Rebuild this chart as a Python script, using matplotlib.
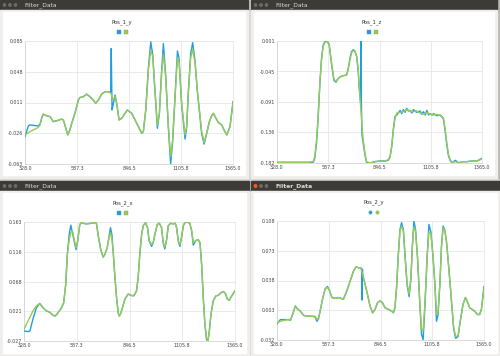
import numpy as np
import matplotlib
matplotlib.use("Agg")
import matplotlib.pyplot as plt
from matplotlib.patches import Rectangle, Circle

# ---- data ----
X_TICKS = ['328.0', '587.3', '846.5', '1105.8', '1365.0']
X_MIN, X_MAX = 328, 1365

# Pos_1_y
TL_NAME = 'Pos_1_y'
TL_YTICKS = ['-0.063', '-0.026', '0.011', '0.048', '0.085']
TL_X = [328, 353, 386, 394, 403, 411, 419, 436, 453, 469, 486, 511, 519, 527, 541, 552, 561, 577, 594, 602,
        619, 635, 652, 669, 680, 694, 710, 727, 744, 757, 765, 777, 785, 797, 810, 827, 838, 860, 885, 910,
        918, 930, 943, 955, 965, 976, 988, 998, 1009, 1018, 1029, 1043, 1054, 1064, 1076, 1088, 1096, 1109,
        1126, 1134, 1142, 1154, 1164, 1176, 1187, 1201, 1209, 1221, 1234, 1247, 1259, 1267, 1280, 1292,
        1309, 1320, 1334, 1350, 1365]
TL_FILT = [-0.028, -0.024, -0.020, -0.019, -0.016, -0.008, -0.003, -0.005, -0.006, -0.012, -0.011, -0.009,
           -0.010, -0.016, -0.028, -0.022, -0.014, -0.002, 0.014, 0.017, 0.018, 0.021, 0.018, 0.014, 0.010,
           0.014, 0.021, 0.024, 0.024, 0.022, 0.014, 0.018, 0.010, -0.010, -0.008, -0.002, 0.002, -0.002,
           -0.014, -0.026, -0.024, 0.002, 0.050, 0.074, 0.066, 0.026, -0.016, -0.002, 0.046, 0.069, 0.043,
           -0.018, -0.054, -0.034, 0.018, 0.065, 0.060, 0.010, -0.028, -0.018, 0.022, 0.065, 0.075, 0.058,
           0.026, -0.006, -0.024, -0.037, -0.026, -0.012, -0.005, -0.002, -0.008, -0.013, -0.016, -0.022,
           -0.028, -0.018, 0.010]
TL_RAW_X = [328, 345, 353, 386, 394, 403, 411, 419, 436, 453, 469, 486, 511, 519, 527, 541, 552, 561, 577,
            594, 602, 619, 635, 652, 669, 680, 694, 710, 727, 744, 755, 758, 762, 768, 777, 785, 797, 810,
            827, 838, 860, 885, 910, 918, 930, 943, 955, 965, 976, 988, 998, 1009, 1018, 1029, 1043, 1054,
            1064, 1076, 1088, 1096, 1109, 1126, 1134, 1142, 1154, 1164, 1176, 1187, 1201, 1209, 1221, 1234,
            1247, 1259, 1267, 1280, 1292, 1309, 1320, 1334, 1350, 1365]
TL_RAW = [-0.030, -0.017, -0.016, -0.017, -0.017, -0.015, -0.008, -0.003, -0.005, -0.006, -0.012, -0.011,
          -0.009, -0.010, -0.016, -0.028, -0.022, -0.014, -0.002, 0.014, 0.017, 0.018, 0.021, 0.018, 0.014,
          0.010, 0.014, 0.021, 0.024, 0.024, 0.023, 0.076, 0.002, 0.009, 0.020, 0.010, -0.010, -0.008,
          -0.002, 0.002, -0.002, -0.014, -0.026, -0.024, 0.002, 0.052, 0.084, 0.068, 0.024, -0.020, -0.002,
          0.048, 0.082, 0.045, -0.020, -0.063, -0.036, 0.018, 0.073, 0.064, 0.008, -0.033, -0.019, 0.022,
          0.070, 0.083, 0.060, 0.025, -0.008, -0.027, -0.039, -0.026, -0.012, -0.005, -0.002, -0.008,
          -0.013, -0.016, -0.022, -0.028, -0.018, 0.012]

# Pos_1_z
TR_NAME = 'Pos_1_z'
TR_YTICKS = ['-0.182', '-0.136', '-0.091', '-0.045', '0.001']
TR_X = [328, 485, 511, 519, 528, 536, 545, 553, 561, 570, 582, 592, 604, 616, 626, 633, 646, 663, 680, 688,
        697, 705, 714, 722, 731, 739, 744, 751, 758, 764, 773, 781, 798, 824, 849, 874, 891, 900, 908, 917,
        925, 934, 951, 967, 984, 1001, 1018, 1035, 1052, 1069, 1086, 1103, 1120, 1137, 1154, 1162, 1170,
        1179, 1187, 1196, 1204, 1213, 1230, 1247, 1264, 1289, 1314, 1340, 1365]
TR_FILT = [-0.181, -0.181, -0.180, -0.172, -0.147, -0.112, -0.062, -0.027, -0.008, -0.001,
           0.000, -0.005, -0.032, -0.056, -0.060, -0.057, -0.053, -0.051, -0.050, -0.042,
           -0.027, -0.017, -0.013, -0.015, -0.022, -0.042, -0.067, -0.097, -0.127, -0.147,
           -0.167, -0.180, -0.182, -0.180, -0.179, -0.179, -0.177, -0.172, -0.157, -0.132,
           -0.115, -0.107, -0.106, -0.105, -0.102, -0.104, -0.105, -0.104, -0.107, -0.109,
           -0.106, -0.109, -0.110, -0.109, -0.111, -0.112, -0.115, -0.132, -0.152, -0.170,
           -0.177, -0.181, -0.180, -0.182, -0.180, -0.180, -0.179, -0.179, -0.176]
TR_RAW_X = [328, 485, 511, 519, 528, 536, 545, 553, 561, 570, 582, 592, 604, 616, 626, 633, 646, 663, 680,
            688, 697, 705, 714, 722, 731, 739, 744, 751, 753, 755, 758, 764, 773, 781, 798, 824, 849, 874,
            891, 900, 908, 917, 925, 934, 951, 959, 967, 976, 984, 993, 1001, 1010, 1018, 1035, 1052, 1060,
            1069, 1078, 1086, 1095, 1103, 1112, 1120, 1137, 1154, 1162, 1170, 1179, 1187, 1196, 1204, 1213,
            1230, 1247, 1264, 1289, 1314, 1340, 1365]
TR_RAW = [-0.181, -0.181, -0.181, -0.175, -0.152, -0.115, -0.062, -0.027, -0.006, 0.000,
          0.001, -0.004, -0.034, -0.058, -0.061, -0.057, -0.053, -0.051, -0.050, -0.041,
          -0.025, -0.015, -0.012, -0.014, -0.022, -0.045, -0.070, -0.092, 0.001, -0.095,
          -0.140, -0.152, -0.170, -0.181, -0.182, -0.180, -0.179, -0.179, -0.178, -0.173,
          -0.158, -0.130, -0.112, -0.110, -0.103, -0.108, -0.102, -0.106, -0.100, -0.104,
          -0.103, -0.107, -0.102, -0.106, -0.104, -0.109, -0.105, -0.110, -0.103, -0.110,
          -0.108, -0.110, -0.108, -0.111, -0.110, -0.113, -0.116, -0.135, -0.155, -0.172,
          -0.178, -0.182, -0.178, -0.182, -0.180, -0.180, -0.179, -0.179, -0.175]

# Pos_2_x
BL_NAME = 'Pos_2_x'
BL_YTICKS = ['-0.027', '0.021', '0.068', '0.116', '0.163']
BL_X = [328, 348, 372, 389, 405, 422, 438, 454, 471, 482, 495, 512, 523, 533, 541, 550, 558, 566, 576, 584,
        592, 602, 610, 618, 635, 659, 676, 684, 692, 705, 717, 725, 737, 746, 753, 760, 766, 774, 783, 791,
        796, 802, 812, 824, 840, 853, 865, 873, 881, 889, 897, 906, 914, 925, 935, 943, 955, 963, 971, 983,
        993, 1004, 1012, 1020, 1029, 1037, 1048, 1061, 1071, 1078, 1086, 1094, 1102, 1111, 1119, 1130, 1143,
        1152, 1160, 1171, 1184, 1193, 1201, 1209, 1217, 1225, 1232, 1239, 1247, 1258, 1271, 1283, 1296,
        1308, 1319, 1327, 1337, 1349, 1365]
BL_FILT = [-0.008, 0.005, 0.021, 0.029, 0.033, 0.026, 0.021, 0.019, 0.014, 0.013,
           0.018, 0.026, 0.034, 0.063, 0.111, 0.135, 0.146, 0.149, 0.133, 0.122,
           0.133, 0.159, 0.162, 0.161, 0.160, 0.161, 0.162, 0.161, 0.143, 0.119,
           0.107, 0.111, 0.122, 0.138, 0.146, 0.135, 0.117, 0.079, 0.042, 0.018,
           0.013, 0.016, 0.026, 0.040, 0.048, 0.046, 0.045, 0.048, 0.053, 0.074,
           0.111, 0.143, 0.157, 0.162, 0.154, 0.133, 0.127, 0.130, 0.143, 0.159,
           0.161, 0.154, 0.130, 0.123, 0.135, 0.157, 0.161, 0.160, 0.161, 0.154,
           0.133, 0.127, 0.138, 0.157, 0.162, 0.163, 0.161, 0.149, 0.130, 0.133,
           0.135, 0.130, 0.095, 0.042, 0.000, -0.022, -0.027, -0.011, 0.016, 0.037,
           0.045, 0.046, 0.050, 0.052, 0.048, 0.040, 0.038, 0.045, 0.053]
BL_RAW_X = [328, 348, 357, 372, 389, 405, 422, 438, 454, 471, 482, 495, 512, 523, 533, 541, 550, 558, 566,
            576, 584, 592, 602, 610, 618, 635, 659, 676, 684, 692, 705, 717, 725, 737, 746, 753, 760, 766,
            774, 783, 791, 796, 802, 812, 824, 840, 853, 865, 873, 881, 889, 897, 906, 914, 925, 935, 943,
            955, 963, 971, 983, 993, 1004, 1012, 1020, 1029, 1037, 1048, 1061, 1071, 1078, 1086, 1094, 1102,
            1111, 1119, 1130, 1143, 1152, 1160, 1171, 1184, 1193, 1201, 1209, 1217, 1225, 1232, 1239, 1247,
            1258, 1271, 1283, 1296, 1308, 1319, 1327, 1337, 1349, 1365]
BL_RAW = [-0.011, -0.012, -0.011, 0.008, 0.026,
          0.033, 0.026, 0.021, 0.019, 0.014, 0.013, 0.018, 0.026, 0.034, 0.063,
          0.111, 0.143, 0.158, 0.146, 0.130, 0.119, 0.133, 0.159, 0.162, 0.161,
          0.160, 0.161, 0.162, 0.161, 0.143, 0.119, 0.107, 0.111, 0.122, 0.140,
          0.154, 0.143, 0.117, 0.079, 0.042, 0.018, 0.013, 0.016, 0.026, 0.040,
          0.048, 0.046, 0.045, 0.048, 0.053, 0.074, 0.111, 0.143, 0.157, 0.162,
          0.154, 0.133, 0.124, 0.130, 0.143, 0.159, 0.161, 0.154, 0.130, 0.120,
          0.135, 0.157, 0.161, 0.160, 0.161, 0.154, 0.133, 0.124, 0.138, 0.157,
          0.162, 0.163, 0.161, 0.149, 0.126, 0.133, 0.135, 0.130, 0.095, 0.042,
          0.000, -0.025, -0.027, -0.011, 0.016, 0.037, 0.045, 0.046, 0.050, 0.052,
          0.048, 0.040, 0.038, 0.045, 0.053]

# Pos_2_y
BR_NAME = 'Pos_2_y'
BR_YTICKS = ['-0.032', '0.003', '0.038', '0.073', '0.108']
BR_X = [328, 345, 361, 386, 395, 406, 420, 428, 445, 461, 478, 503, 519, 528, 536, 544, 558, 569, 581, 591,
        603, 619, 636, 661, 678, 694, 711, 724, 736, 747, 757, 769, 781, 794, 807, 819, 832, 844, 856, 869,
        886, 902, 911, 919, 927, 936, 944, 952, 961, 970, 980, 990, 999, 1007, 1014, 1022, 1032, 1044, 1052,
        1060, 1069, 1080, 1089, 1099, 1110, 1119, 1127, 1135, 1144, 1152, 1160, 1169, 1177, 1190, 1202,
        1213, 1223, 1235, 1246, 1260, 1272, 1280, 1293, 1306, 1318, 1332, 1343, 1352, 1365]
BR_FILT = [-0.012, -0.010, -0.009, -0.008, -0.009, -0.002, 0.008, 0.005, 0.002, -0.003,
           -0.004, -0.004, -0.004, -0.008, -0.006, 0.002, 0.018, 0.028, 0.030, 0.026,
           0.018, 0.017, 0.018, 0.016, 0.026, 0.037, 0.049, 0.054, 0.053, 0.053,
           0.045, 0.034, 0.022, 0.008, 0.000, 0.004, 0.012, 0.014, 0.012, 0.006,
           0.004, 0.002, 0.000, 0.006, 0.030, 0.069, 0.096, 0.102, 0.096, 0.065,
           0.034, 0.022, 0.041, 0.081, 0.101, 0.096, 0.065, 0.010, -0.019, -0.021,
           0.010, 0.065, 0.095, 0.093, 0.065, 0.034, -0.002, 0.002, 0.034, 0.077,
           0.100, 0.096, 0.084, 0.049, 0.014, -0.017, -0.028, -0.027, -0.010, 0.010,
           0.018, 0.014, 0.006, 0.004, 0.002, -0.002, -0.002, 0.004, 0.028]
BR_RAW_X = [328, 345, 361, 386, 395, 406, 420, 428, 445, 461, 478, 503, 519, 528, 536, 544, 558, 569, 581,
            591, 603, 619, 636, 661, 678, 694, 711, 724, 736, 747, 752, 754, 756, 757, 769, 781, 794, 807,
            819, 832, 844, 856, 869, 886, 902, 911, 919, 927, 936, 944, 952, 961, 970, 980, 990, 999, 1007,
            1014, 1022, 1032, 1044, 1052, 1060, 1069, 1080, 1089, 1099, 1110, 1119, 1127, 1135, 1144, 1152,
            1160, 1169, 1177, 1190, 1202, 1213, 1223, 1235, 1246, 1260, 1272, 1280, 1293, 1306, 1318, 1332,
            1343, 1352, 1365]
BR_RAW = [-0.013, -0.008, -0.008, -0.008, -0.009, -0.002, 0.008, 0.005, 0.002, -0.003,
          -0.004, -0.004, -0.005, -0.010, -0.007, 0.002, 0.018, 0.028, 0.031, 0.026,
          0.018, 0.017, 0.018, 0.016, 0.026, 0.037, 0.049, 0.054, 0.053, 0.053,
          0.052, 0.015, 0.051, 0.045, 0.034, 0.022, 0.008, 0.000, 0.004, 0.012,
          0.014, 0.012, 0.006, 0.004, 0.002, 0.000, 0.006, 0.030, 0.069, 0.098,
          0.106, 0.098, 0.065, 0.032, 0.019, 0.041, 0.083, 0.108, 0.098, 0.065,
          0.008, -0.025, -0.032, 0.008, 0.065, 0.104, 0.095, 0.065, 0.034, -0.010,
          -0.002, 0.034, 0.079, 0.102, 0.097, 0.084, 0.049, 0.014, -0.019, -0.030,
          -0.028, -0.010, 0.010, 0.018, 0.014, 0.006, 0.004, 0.002, -0.002, -0.002,
          0.004, 0.031]

# ---- look ----
W, H = 500, 356
RAW_COLOR = '#209fdf'
FILT_COLOR = '#99ca53'
TITLEBAR = '#3c3b37'
GRID = '#e6e6e6'

# window rect (px, from top-left), plot rect (px), active window flag, legend marker
panels = [
    ((0, 0, 248, 178), (25, 41, 208, 123), False, 's',
     TL_NAME, TL_YTICKS, TL_RAW_X, TL_RAW, TL_X, TL_FILT),
    ((251, 0, 246, 178), (277, 41, 205, 122), False, 's',
     TR_NAME, TR_YTICKS, TR_RAW_X, TR_RAW, TR_X, TR_FILT),
    ((0, 181, 249, 175), (24, 222, 211, 119), False, 's',
     BL_NAME, BL_YTICKS, BL_RAW_X, BL_RAW, BL_X, BL_FILT),
    ((251, 181, 249, 175), (277, 221, 207, 119), True, 'o',
     BR_NAME, BR_YTICKS, BR_RAW_X, BR_RAW, BR_X, BR_FILT),
]


def fig_rect(x, y, w, h):
    return [x / W, 1 - (y + h) / H, w / W, h / H]


fig = plt.figure(figsize=(W / 100, H / 100), dpi=100, facecolor='#d6d4cf')

# background canvas in pixel units for the window chrome
bg = fig.add_axes([0, 0, 1, 1], zorder=0)
bg.set_xlim(0, W)
bg.set_ylim(H, 0)
bg.axis('off')
bg.add_patch(Rectangle((497, 0), 3, 178, color='#b9b7b2'))

for win, plot, active, marker, name, yticks, rx, ry, fx, fy in panels:
    x, y, w, h = win
    # title bar
    bg.add_patch(Rectangle((x, y), w, 10, color=TITLEBAR))
    bg.add_patch(Rectangle((x, y + 10), w, h - 10, color='#efeeec'))
    bg.add_patch(Rectangle((x + 3, y + 12), w - 6, h - 15, color='white'))
    for i, bx in enumerate([4.5, 10, 15.5]):
        c = '#e95b2b' if (active and i == 0) else '#6a6965'
        bg.add_patch(Circle((x + bx, y + 5), 2.3, facecolor=c, edgecolor='#2c2b28', lw=0.3))
    bg.text(x + 24, y + 5.3, 'Filter_Data', fontsize=4.3, color='#dfdbd2', va='center', ha='left',
            fontweight='bold' if active else 'normal')

    # chart title and legend markers
    cx = x + w / 2 - 2
    bg.text(cx, plot[1] - 19, name, fontsize=3.8, color='#333333', ha='center', va='center')
    bg.plot([cx - 3.5], [plot[1] - 9], marker=marker, ms=2.4, color=RAW_COLOR, mec='#5c8fb0', mew=0.3)
    bg.plot([cx + 3.5], [plot[1] - 9], marker=marker, ms=2.4, color=FILT_COLOR, mec='#7f9f50', mew=0.3)

    ax = fig.add_axes(fig_rect(*plot), zorder=2)
    ax.set_facecolor('none')
    y_lo, y_hi = float(yticks[0]), float(yticks[-1])
    ax.plot(rx, ry, color=RAW_COLOR, lw=1.0, zorder=3, solid_joinstyle='round')
    ax.plot(fx, fy, color=FILT_COLOR, lw=1.0, zorder=4, solid_joinstyle='round')
    ax.set_xlim(X_MIN, X_MAX)
    ax.set_ylim(y_lo, y_hi)
    ax.set_xticks(np.linspace(X_MIN, X_MAX, len(X_TICKS)))
    ax.set_xticklabels(X_TICKS)
    ax.set_yticks(np.linspace(y_lo, y_hi, len(yticks)))
    ax.set_yticklabels(yticks)
    ax.tick_params(length=0, labelsize=3.4, labelcolor='#444444', pad=1.2)
    ax.grid(True, color=GRID, lw=0.6)
    ax.set_axisbelow(True)
    for side, sp in ax.spines.items():
        sp.set_color('#d4d4d4' if side in ('left', 'bottom') else GRID)
        sp.set_linewidth(0.6)

fig.savefig('out.png', dpi=100, facecolor=fig.get_facecolor())
